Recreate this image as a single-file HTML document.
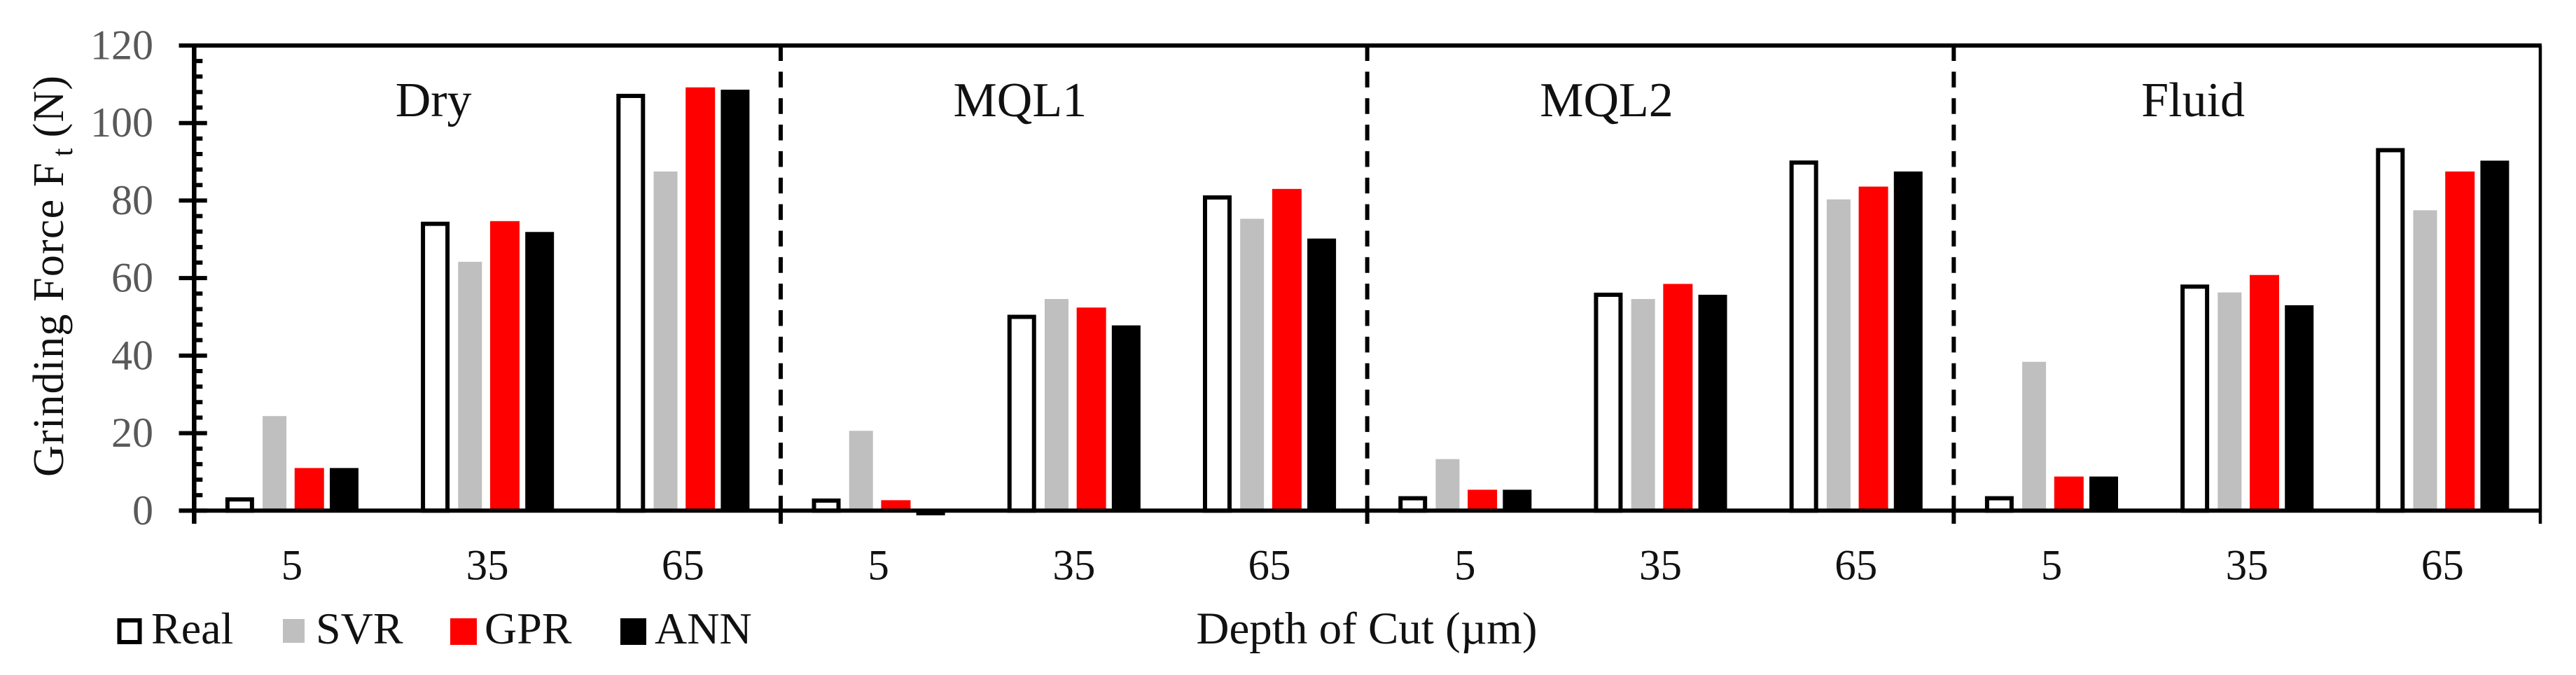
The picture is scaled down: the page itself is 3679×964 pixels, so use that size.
<!DOCTYPE html>
<html lang="en">
<head>
<meta charset="utf-8">
<title>Grinding Force Chart</title>
<style>
html,body{margin:0;padding:0;background:#fff;}
body{width:3679px;height:964px;overflow:hidden;}
svg{display:block;font-family:"Liberation Serif","Times New Roman",serif;}
</style>
</head>
<body>
<svg id="chart" xmlns="http://www.w3.org/2000/svg" width="3679" height="964" viewBox="0 0 3679 964">
  <rect x="0" y="0" width="3679" height="964" fill="#ffffff"/>
  <g id="bars"></g>
  <g id="axes"></g>
  <g id="labels"></g>
  <text transform="translate(90,681) rotate(-90)" font-size="62" letter-spacing="1.2" fill="#111">Grinding Force F<tspan font-size="42" dx="8" dy="13">t</tspan><tspan dx="14" dy="-13">(N)</tspan></text>
  <text x="1952" y="919" font-size="65" text-anchor="middle" fill="#111">Depth of Cut (µm)</text>
  <g>
    <g>
      <rect x="170.5" y="886" width="29" height="31" fill="#fff" stroke="#000" stroke-width="6"/>
      <text x="216" y="919" font-size="64" fill="#111">Real</text>
    </g>
    <g>
      <rect x="404" y="884" width="31" height="34" fill="#bfbfbf"/>
      <text x="451" y="919" font-size="64" fill="#111">SVR</text>
    </g>
    <g>
      <rect x="643" y="883" width="38" height="38" fill="#ff0000"/>
      <text x="692" y="919" font-size="64" fill="#111">GPR</text>
    </g>
    <g>
      <rect x="886" y="883" width="37" height="38" fill="#000000"/>
      <text x="935" y="919" font-size="64" fill="#111">ANN</text>
    </g>
  </g>
</svg>
<script>
// ---- chart data ----
var depthLabels = ['5','35','65','5','35','65','5','35','65','5','35','65'];
var conditionLabels = ['Dry','MQL1','MQL2','Fluid'];
var yTickLabels = [0,20,40,60,80,100,120];
var yMinorTicks = [4,8,12,16,24,28,32,36,44,48,52,56,64,68,72,76,84,88,92,96,104,108,112,116];
var realValues = [2.9,74,107, 2.6,50,80.8, 3.2,55.7,89.8, 3.2,57.8,93];
var svrValues  = [24.4,64.2,87.5, 20.6,54.6,75.3, 13.3,54.6,80.3, 38.4,56.3,77.5];
var gprValues  = [11,74.7,109.2, 2.7,52.4,83, 5.4,58.5,83.6, 8.8,60.8,87.5];
var annValues  = [11,71.9,108.6, -1.2,47.8,70.2, 5.4,55.7,87.5, 8.8,53,90.3];

// ---- layout ----
var NS = 'http://www.w3.org/2000/svg';
var plotLeft = 277.3, plotRight = 3628, plotTop = 65, plotBottom = 729.3;
var yMax = 120;
var catWidth = (plotRight - plotLeft) / depthLabels.length;
var barPitch = catWidth * 0.178;
var conditionLabelShift = -77;

function yScale(v){ return plotBottom - (v / yMax) * (plotBottom - plotTop); }
function catCenter(i){ return plotLeft + (i + 0.5) * catWidth; }
function seriesCenter(i, s){ return catCenter(i) + (s - 1.5) * barPitch; }
function sectionEdge(k){ return plotLeft + k * 3 * catWidth; }

function make(tag, attrs, parent){
  var el = document.createElementNS(NS, tag);
  for (var k in attrs) el.setAttribute(k, attrs[k]);
  parent.appendChild(el);
  return el;
}

var barsG = document.getElementById('bars');
var axesG = document.getElementById('axes');
var labelsG = document.getElementById('labels');

// ---- bars ----
function drawFilled(values, s, width, color, key){
  values.forEach(function(v, i){
    var y0 = yScale(Math.max(v, 0));
    var y1 = yScale(Math.min(v, 0));
    var r = make('rect', {x: seriesCenter(i, s) - width / 2, y: y0, width: width, height: y1 - y0, fill: color}, barsG);
    
    
  });
}
function drawOutlined(values, s, width, key){
  values.forEach(function(v, i){
    var y0 = yScale(v);
    var r = make('rect', {x: seriesCenter(i, s) - width / 2, y: y0, width: width, height: plotBottom - y0, fill: '#ffffff', stroke: '#000000', 'stroke-width': 6}, barsG);
    
    
  });
}
drawOutlined(realValues, 0, 35, 'real');
drawFilled(svrValues, 1, 34, '#bfbfbf', 'svr');
drawFilled(gprValues, 2, 42, '#ff0000', 'gpr');
drawFilled(annValues, 3, 41, '#000000', 'ann');

// ---- axes ----
var topLine = make('line', {x1: 255.5, x2: 3630, y1: plotTop, y2: plotTop, stroke: '#000', 'stroke-width': 6}, axesG);



var xAxis = make('line', {x1: 255.5, x2: 3630, y1: plotBottom, y2: plotBottom, stroke: '#000', 'stroke-width': 6}, axesG);



var yAxis = make('line', {x1: plotLeft, x2: plotLeft, y1: plotTop, y2: 748, stroke: '#000', 'stroke-width': 6.5}, axesG);



var rightLine = make('line', {x1: plotRight, x2: plotRight, y1: plotTop, y2: 748, stroke: '#000', 'stroke-width': 4.5}, axesG);



yTickLabels.forEach(function(v){
  var t = make('line', {x1: 255.5, x2: (v === yMax ? plotLeft : 295.7), y1: yScale(v), y2: yScale(v), stroke: '#000', 'stroke-width': 6}, axesG);
  
  
  var l = make('text', {x: 219, y: yScale(v) + 19.5, 'font-size': 60, 'text-anchor': 'end', fill: '#595959'}, labelsG);
  
  
  l.textContent = v;
});
yMinorTicks.forEach(function(v){
  var t = make('line', {x1: plotLeft, x2: 289.3, y1: yScale(v), y2: yScale(v), stroke: '#000', 'stroke-width': 6}, axesG);
  
  
});

[1,2,3].forEach(function(k){
  var x = sectionEdge(k);
  var d = make('line', {x1: x, x2: x, y1: plotTop - 0.5, y2: 731, stroke: '#000', 'stroke-width': 6, 'stroke-dasharray': '22.5 15.35'}, axesG);
  
  
  var t = make('line', {x1: x, x2: x, y1: plotBottom, y2: 748, stroke: '#000', 'stroke-width': 6}, axesG);
  
  
});

// ---- labels ----
depthLabels.forEach(function(lab, i){
  var l = make('text', {x: catCenter(i), y: 827.5, 'font-size': 61, 'text-anchor': 'middle', fill: '#111'}, labelsG);
  
  
  l.textContent = lab;
});
conditionLabels.forEach(function(lab, k){
  var cx = (sectionEdge(k) + sectionEdge(k + 1)) / 2 + conditionLabelShift;
  var l = make('text', {x: cx, y: 166, 'font-size': 70, 'text-anchor': 'middle', fill: '#111'}, labelsG);
  
  
  l.textContent = lab;
});
</script>
</body>
</html>
